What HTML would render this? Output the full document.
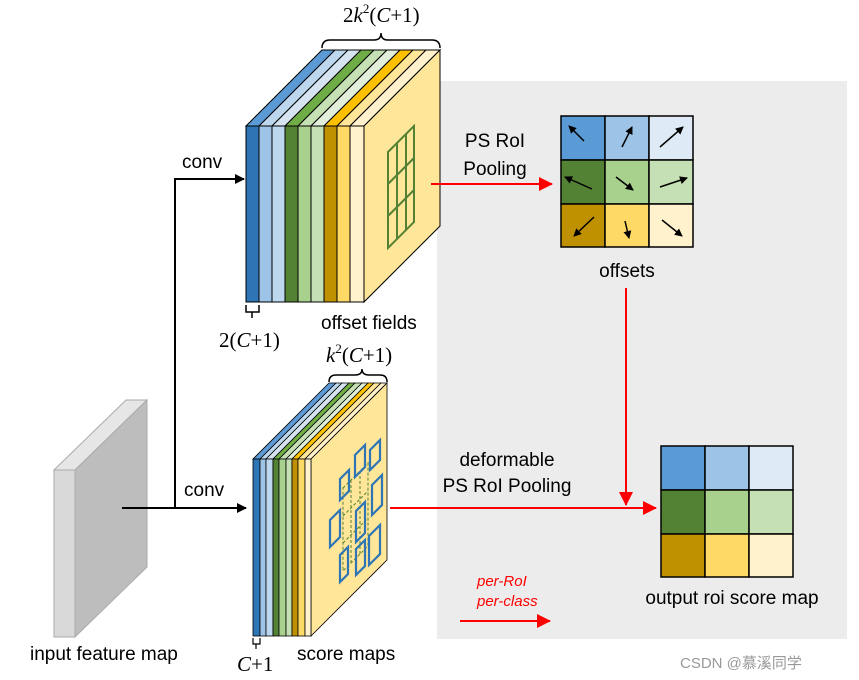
<!DOCTYPE html>
<html><head><meta charset="utf-8"><style>
body{margin:0;background:#fff}
svg{display:block}
.s{font-family:"Liberation Sans","DejaVu Sans",sans-serif;font-size:19px;fill:#000}
.m{font-family:"Liberation Serif",serif;font-size:21px;fill:#000}
</style></head><body>
<svg width="859" height="680" viewBox="0 0 859 680" xmlns="http://www.w3.org/2000/svg">
<defs>
<marker id="ab" markerWidth="10" markerHeight="10" refX="9" refY="5" orient="auto" markerUnits="userSpaceOnUse"><path d="M0,0 L10,5 L0,10z" fill="#000"/></marker>
<marker id="ar" markerWidth="14" markerHeight="14" refX="13" refY="7" orient="auto" markerUnits="userSpaceOnUse"><path d="M0,0 L14,7 L0,14z" fill="#f00"/></marker>
<marker id="as" markerWidth="8" markerHeight="8" refX="7" refY="4" orient="auto" markerUnits="userSpaceOnUse"><path d="M0,0 L8,4 L0,8z" fill="#000"/></marker>
</defs>
<rect x="437" y="81" width="410" height="558" fill="#ececec"/>

<!-- input feature map -->
<polygon points="54,470 126,400 147,400 75,470" fill="#e6e6e6" stroke="#aaa"/>
<polygon points="75,470 147,400 147,567 75,637" fill="#bdbdbd" stroke="#aaa"/>
<rect x="54" y="470" width="21" height="167" fill="#d9d9d9" stroke="#aaa"/>
<text class="s" x="30" y="660">input feature map</text>

<!-- conv connectors -->
<path d="M122,508 H246" stroke="#000" stroke-width="2" fill="none" marker-end="url(#ab)"/>
<path d="M175,508 V179 H244" stroke="#000" stroke-width="2" fill="none" marker-end="url(#ab)"/>
<text class="s" x="182" y="168">conv</text>
<text class="s" x="184" y="496">conv</text>

<!-- top block -->
<g stroke="#000" stroke-width="1">
<polygon points="246,126 322,50 335,50 259,126" fill="#5b9bd5"/>
<polygon points="259,126 335,50 348,50 272,126" fill="#bdd7ee"/>
<polygon points="272,126 348,50 361,50 285,126" fill="#d6e4f2"/>
<polygon points="285,126 361,50 374,50 298,126" fill="#70ad47"/>
<polygon points="298,126 374,50 387,50 311,126" fill="#c5e0b4"/>
<polygon points="311,126 387,50 400,50 324,126" fill="#e2efda"/>
<polygon points="324,126 400,50 413,50 337,126" fill="#ffc000"/>
<polygon points="337,126 413,50 426,50 350,126" fill="#ffe699"/>
<polygon points="350,126 426,50 440,50 364,126" fill="#fff2cc"/>
<polygon points="364,126 440,50 440,226 364,302" fill="#ffe699"/>
<rect x="246" y="126" width="13" height="176" fill="#2e75b6"/>
<rect x="259" y="126" width="13" height="176" fill="#9dc3e6"/>
<rect x="272" y="126" width="13" height="176" fill="#bdd7ee"/>
<rect x="285" y="126" width="13" height="176" fill="#548235"/>
<rect x="298" y="126" width="13" height="176" fill="#a9d18e"/>
<rect x="311" y="126" width="13" height="176" fill="#c5e0b4"/>
<rect x="324" y="126" width="13" height="176" fill="#bf9000"/>
<rect x="337" y="126" width="13" height="176" fill="#ffd966"/>
<rect x="350" y="126" width="14" height="176" fill="#fff2cc"/>
</g>
<g stroke="#548235" stroke-width="2" fill="none">
<polygon points="388,152 414,126 414,222 388,248"/>
<line x1="397" y1="143" x2="397" y2="239"/>
<line x1="406" y1="134" x2="406" y2="230"/>
<line x1="388" y1="184" x2="414" y2="158"/>
<line x1="388" y1="216" x2="414" y2="190"/>
</g>
<path d="M322,48 Q322,40 330,40 H374 Q381,40 381,33 Q381,40 388,40 H432 Q440,40 440,48" stroke="#000" stroke-width="1.5" fill="none"/>
<text class="m" x="343" y="22">2<tspan font-style="italic">k</tspan><tspan font-size="13" dy="-9">2</tspan><tspan dy="9">(</tspan><tspan font-style="italic">C</tspan>+1)</text>
<path d="M246,305 V312 H259 V305 M252,312 V318" stroke="#000" stroke-width="1.5" fill="none"/>
<text class="m" x="219" y="347">2(<tspan font-style="italic">C</tspan>+1)</text>
<text class="s" x="321" y="329">offset fields</text>

<!-- bottom block -->
<g stroke="#000" stroke-width="0.8">
<polygon points="253,459 329,383 336,383 260,459" fill="#5b9bd5"/>
<polygon points="260,459 336,383 342,383 266,459" fill="#bdd7ee"/>
<polygon points="266,459 342,383 349,383 273,459" fill="#d6e4f2"/>
<polygon points="273,459 349,383 355,383 279,459" fill="#70ad47"/>
<polygon points="279,459 355,383 362,383 286,459" fill="#c5e0b4"/>
<polygon points="286,459 362,383 368,383 292,459" fill="#e2efda"/>
<polygon points="292,459 368,383 374,383 298,459" fill="#ffc000"/>
<polygon points="298,459 374,383 381,383 305,459" fill="#ffe699"/>
<polygon points="305,459 381,383 387,383 311,459" fill="#fff2cc"/>
<polygon points="311,459 387,383 387,560 311,636" fill="#ffe699"/>
<rect x="253" y="459" width="7" height="177" fill="#2e75b6"/>
<rect x="260" y="459" width="6" height="177" fill="#9dc3e6"/>
<rect x="266" y="459" width="7" height="177" fill="#bdd7ee"/>
<rect x="273" y="459" width="6" height="177" fill="#548235"/>
<rect x="279" y="459" width="7" height="177" fill="#a9d18e"/>
<rect x="286" y="459" width="6" height="177" fill="#c5e0b4"/>
<rect x="292" y="459" width="6" height="177" fill="#bf9000"/>
<rect x="298" y="459" width="7" height="177" fill="#ffd966"/>
<rect x="305" y="459" width="6" height="177" fill="#fff2cc"/>
</g>
<g stroke="#548235" stroke-width="1" stroke-dasharray="3,2" fill="none">
<polygon points="343,488 368,463 368,546 343,571"/>
<line x1="351" y1="480" x2="351" y2="563"/>
<line x1="360" y1="471" x2="360" y2="554"/>
<line x1="343" y1="516" x2="368" y2="491"/>
<line x1="343" y1="543" x2="368" y2="518"/>
</g>
<g stroke="#2e75b6" stroke-width="2.2" fill="none">
<polygon points="340,479 349,470 349,491 340,500"/>
<polygon points="355,455 365,445 365,467 355,477"/>
<polygon points="370,450 380,440 380,460 370,470"/>
<polygon points="330,520 340,510 340,537 330,547"/>
<polygon points="356,511 365,502 365,533 356,542"/>
<polygon points="372,485 382,475 382,505 372,515"/>
<polygon points="340,555 348,547 348,574 340,582"/>
<polygon points="356,549 365,540 365,566 356,575"/>
<polygon points="369,536 380,525 380,554 369,565"/>
</g>
<path d="M329,382 Q329,375 336,375 H355 Q362,375 362,369 Q362,375 369,375 H380 Q387,375 387,382" stroke="#000" stroke-width="1.5" fill="none"/>
<text class="m" x="326" y="362"><tspan font-style="italic">k</tspan><tspan font-size="13" dy="-9">2</tspan><tspan dy="9">(</tspan><tspan font-style="italic">C</tspan>+1)</text>
<path d="M253,638 V644 H260 V638 M256,644 V649" stroke="#000" stroke-width="1.2" fill="none"/>
<text class="m" x="237" y="671"><tspan font-style="italic">C</tspan>+1</text>
<text class="s" x="297" y="660">score maps</text>

<!-- offsets grid -->
<g stroke="#000" stroke-width="1.5">
<rect x="561" y="116" width="44" height="44" fill="#5b9bd5"/>
<rect x="605" y="116" width="44" height="44" fill="#9dc3e6"/>
<rect x="649" y="116" width="44" height="44" fill="#deebf7"/>
<rect x="561" y="160" width="44" height="44" fill="#548235"/>
<rect x="605" y="160" width="44" height="44" fill="#a9d18e"/>
<rect x="649" y="160" width="44" height="44" fill="#c5e0b4"/>
<rect x="561" y="204" width="44" height="43" fill="#bf9000"/>
<rect x="605" y="204" width="44" height="43" fill="#ffd966"/>
<rect x="649" y="204" width="44" height="43" fill="#fff2cc"/>
</g>
<g stroke="#000" stroke-width="1.5" marker-end="url(#as)">
<line x1="584" y1="141" x2="569" y2="126"/>
<line x1="622" y1="147" x2="632" y2="127"/>
<line x1="660" y1="147" x2="683" y2="127"/>
<line x1="592" y1="189" x2="565" y2="177"/>
<line x1="616" y1="177" x2="633" y2="190"/>
<line x1="660" y1="187" x2="687" y2="178"/>
<line x1="594" y1="217" x2="574" y2="236"/>
<line x1="625" y1="221" x2="629" y2="238"/>
<line x1="662" y1="220" x2="682" y2="236"/>
</g>
<text class="s" x="627" y="277" text-anchor="middle">offsets</text>

<!-- output grid -->
<g stroke="#000" stroke-width="1.5">
<rect x="661" y="446" width="44" height="44" fill="#5b9bd5"/>
<rect x="705" y="446" width="44" height="44" fill="#9dc3e6"/>
<rect x="749" y="446" width="44" height="44" fill="#deebf7"/>
<rect x="661" y="490" width="44" height="44" fill="#548235"/>
<rect x="705" y="490" width="44" height="44" fill="#a9d18e"/>
<rect x="749" y="490" width="44" height="44" fill="#c5e0b4"/>
<rect x="661" y="534" width="44" height="43" fill="#bf9000"/>
<rect x="705" y="534" width="44" height="43" fill="#ffd966"/>
<rect x="749" y="534" width="44" height="43" fill="#fff2cc"/>
</g>
<text class="s" x="732" y="604" text-anchor="middle">output roi score map</text>

<!-- red arrows -->
<g stroke="#f00" stroke-width="2" fill="none">
<line x1="431" y1="184" x2="552" y2="184" marker-end="url(#ar)"/>
<line x1="626" y1="288" x2="626" y2="505" marker-end="url(#ar)"/>
<line x1="390" y1="508" x2="656" y2="508" marker-end="url(#ar)"/>
<line x1="460" y1="621" x2="550" y2="621" marker-end="url(#ar)"/>
</g>
<text class="s" x="495" y="147" text-anchor="middle">PS RoI</text>
<text class="s" x="495" y="175" text-anchor="middle">Pooling</text>
<text class="s" x="507" y="466" text-anchor="middle">deformable</text>
<text class="s" x="507" y="492" text-anchor="middle">PS RoI Pooling</text>
<text x="477" y="586" font-family="Liberation Sans,sans-serif" font-size="15" font-style="italic" fill="#f00">per-RoI</text>
<text x="477" y="606" font-family="Liberation Sans,sans-serif" font-size="15" font-style="italic" fill="#f00">per-class</text>
<text x="680" y="668" font-family="Liberation Sans,'Noto Sans CJK SC',sans-serif" font-size="15" fill="#999">CSDN @慕溪同学</text>
</svg>
</body></html>
